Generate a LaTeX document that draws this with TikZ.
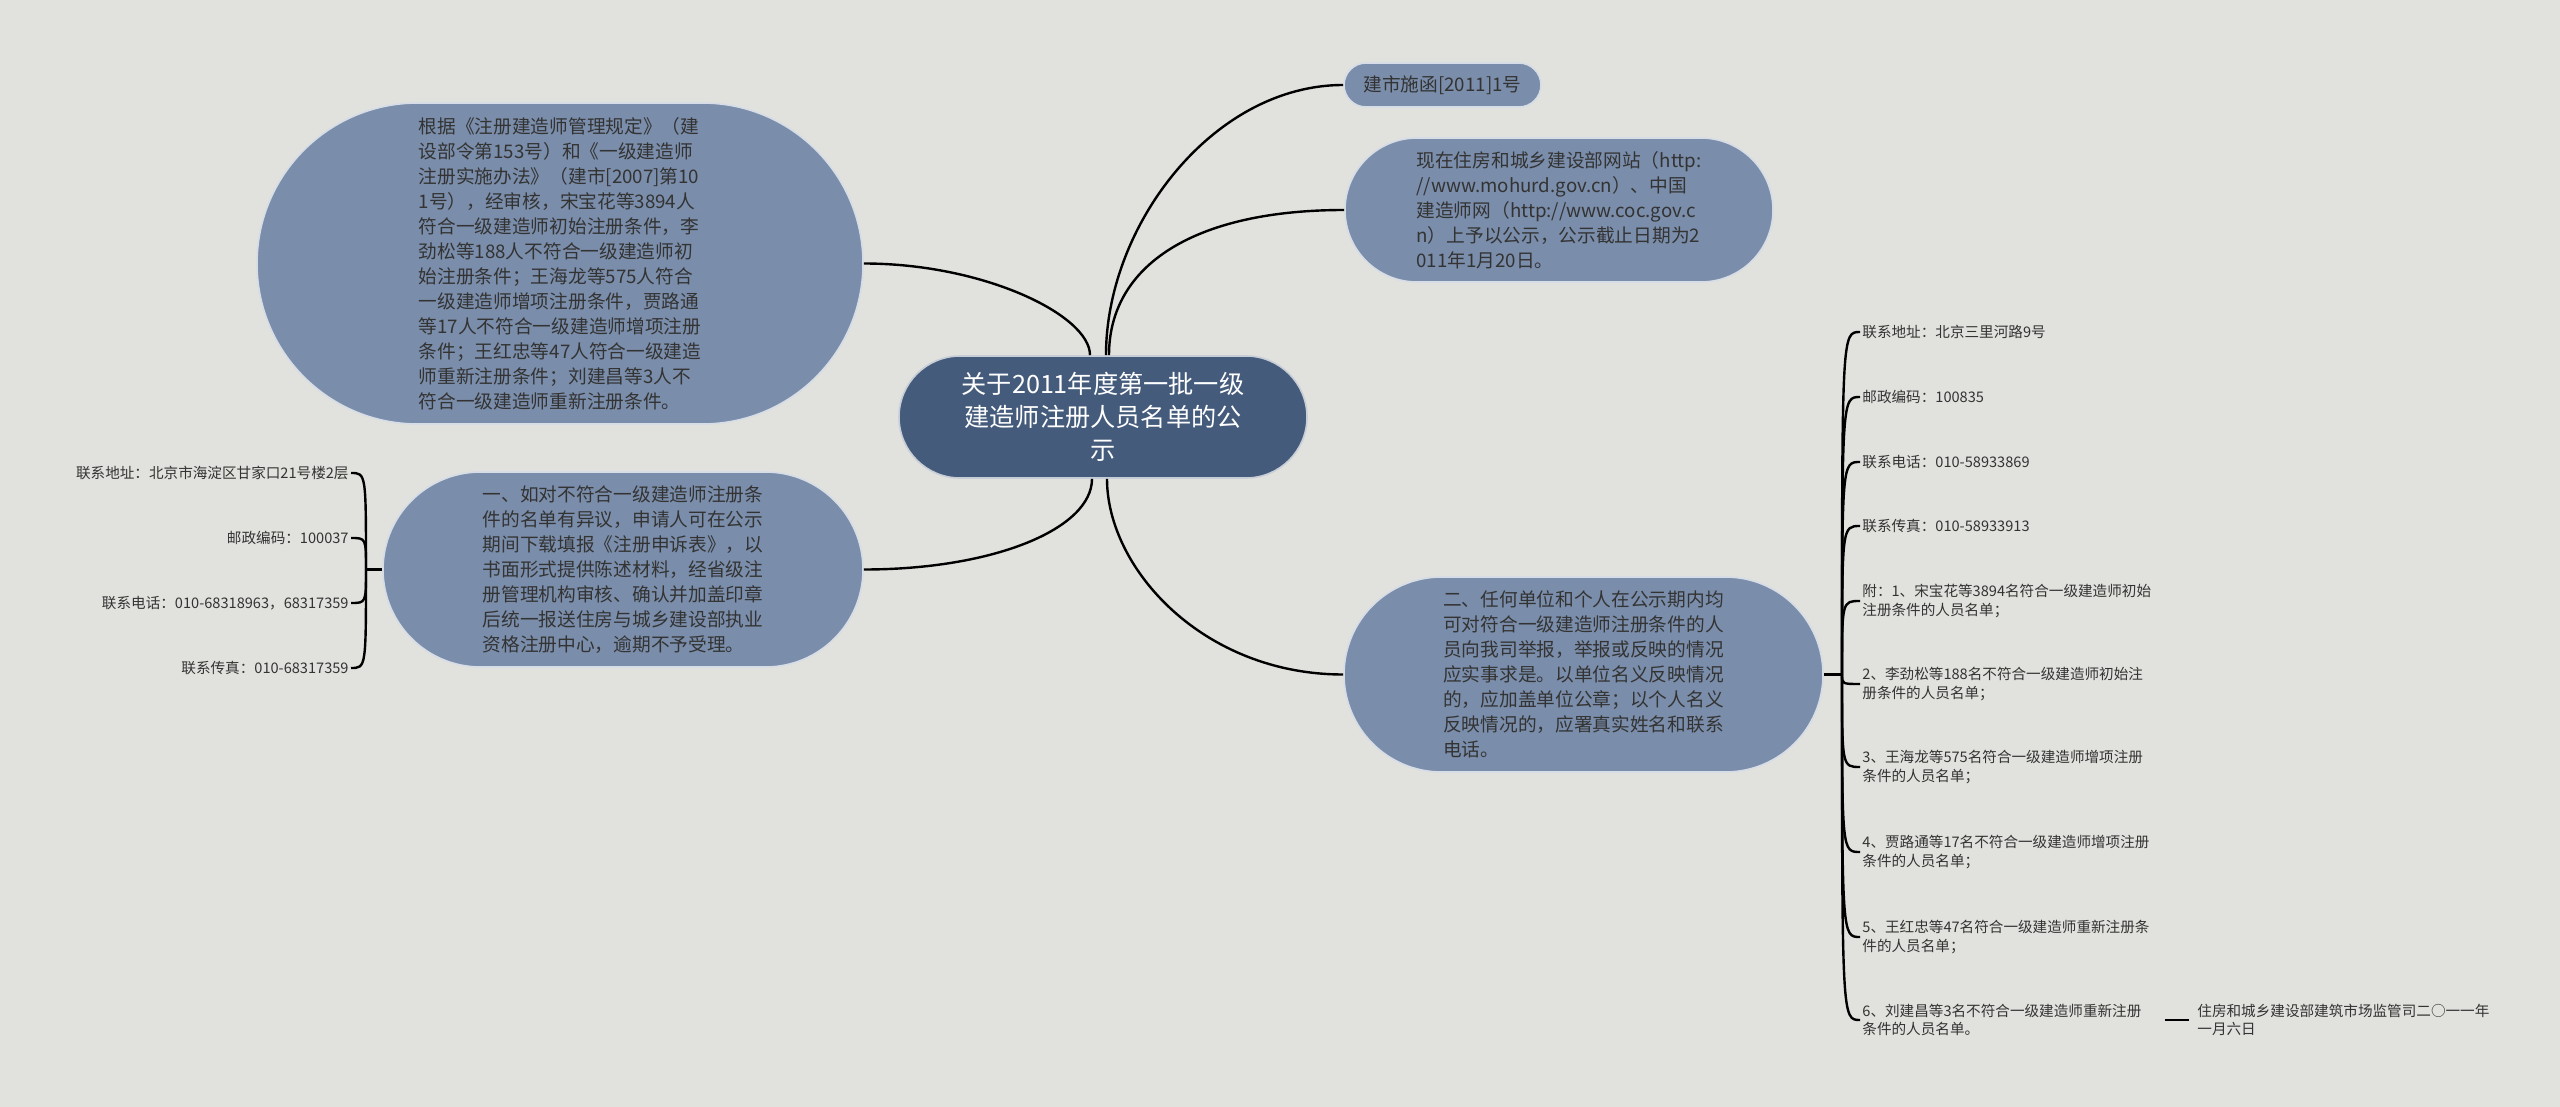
\documentclass[tikz,border=0pt]{standalone}
\usepackage{fontspec}
\setmainfont{Noto Sans CJK SC}
\usepackage{tikz}
\usetikzlibrary{shapes.misc}

\definecolor{paper}{HTML}{E1E1DD}
\definecolor{topicblue}{HTML}{7A8DAA}
\definecolor{rootblue}{HTML}{445B7B}
\definecolor{ink}{HTML}{333333}

\tikzset{
	root/.style={rounded rectangle, fill=rootblue, draw=white!70!rootblue, line width=0.8pt,
		text=white, align=center, inner sep=2pt, font=\fontsize{12.6}{16.5}\selectfont},
	topic/.style={rounded rectangle, fill=topicblue, draw=white!70!topicblue, line width=0.8pt,
		text=ink, align=left, inner sep=2pt, font=\fontsize{9.35}{12.5}\selectfont},
	leaf/.style={text=ink, inner sep=1pt, font=\fontsize{7.3}{9.3}\selectfont},
	link/.style={line width=1.2pt},
}

\begin{document}
\begin{tikzpicture}[x=0.5pt,y=0.5pt]
	\fill[paper] (0,0) rectangle (2560,-1107);
	\useasboundingbox (0,0) rectangle (2560,-1107);
	% centre and main topics
	\node[root, minimum width=208pt, minimum height=61pt] (title) at (1103,-417) {关于2011年度第一批一级\\建造师注册人员名单的公\\示};
	\node[topic, minimum width=307pt, minimum height=160.5pt] (basis) at (560,-263.5) {根据《注册建造师管理规定》（建\\设部令第153号）和《一级建造师\\注册实施办法》（建市[2007]第10\\1号），经审核，宋宝花等3894人\\符合一级建造师初始注册条件，李\\劲松等188人不符合一级建造师初\\始注册条件；王海龙等575人符合\\一级建造师增项注册条件，贾路通\\等17人不符合一级建造师增项注册\\条件；王红忠等47人符合一级建造\\师重新注册条件；刘建昌等3人不\\符合一级建造师重新注册条件。};
	\node[topic, minimum width=244pt, minimum height=97.5pt] (appeal) at (623,-569.5) {一、如对不符合一级建造师注册条\\件的名单有异议，申请人可在公示\\期间下载填报《注册申诉表》，以\\书面形式提供陈述材料，经省级注\\册管理机构审核、确认并加盖印章\\后统一报送住房与城乡建设部执业\\资格注册中心，逾期不予受理。};
	\node[topic, minimum width=102.5pt, minimum height=22pt] (docno) at (1442.5,-85) {建市施函[2011]1号};
	\node[topic, minimum width=218pt, minimum height=72pt] (site) at (1559,-210) {现在住房和城乡建设部网站（http:\\//www.mohurd.gov.cn）、中国\\建造师网（http://www.coc.gov.c\\n）上予以公示，公示截止日期为2\\011年1月20日。};
	\node[topic, minimum width=243.5pt, minimum height=97.5pt] (report) at (1583.5,-674.5) {二、任何单位和个人在公示期内均\\可对符合一级建造师注册条件的人\\员向我司举报，举报或反映的情况\\应实事求是。以单位名义反映情况\\的，应加盖单位公章；以个人名义\\反映情况的，应署真实姓名和联系\\电话。};

	\draw[link] ([xshift=-6.5pt]title.north) .. controls +(0,40) and +(120,0) .. (basis.east);
	\draw[link] ([xshift=1.5pt]title.north) .. controls +(0,130) and +(-130,0) .. (docno.west);
	\draw[link] ([xshift=3pt]title.north) .. controls +(0,90) and +(-150,0) .. (site.west);
	\draw[link] ([xshift=-5.5pt]title.south) .. controls +(0,-50) and +(130,0) .. (appeal.east);
	\draw[link] ([xshift=2pt]title.south) .. controls +(0,-90) and +(-140,0) .. (report.west);

	% contacts of the appeal office
	\node[leaf, anchor=east] (l1) at (351,-473) {联系地址：北京市海淀区甘家口21号楼2层};
	\node[leaf, anchor=east] (l2) at (351,-538) {邮政编码：100037};
	\node[leaf, anchor=east] (l3) at (351,-603) {联系电话：010-68318963，68317359};
	\node[leaf, anchor=east] (l4) at (351,-668) {联系传真：010-68317359};
	\coordinate (lhub) at (366,-569.5);
	\draw[link] (appeal.west) -- (lhub);
	\foreach \n in {l1,l2,l3,l4}
		\draw[link] (lhub) .. controls (lhub |- \n.east) .. (\n.east);

	% contacts and attachments of the report
	\tikzset{rleaf/.style={leaf, anchor=west, align=left, text width=150pt}}
	\node[rleaf] (r1) at (1860,-332) {联系地址：北京三里河路9号};
	\node[rleaf] (r2) at (1860,-397) {邮政编码：100835};
	\node[rleaf] (r3) at (1860,-462) {联系电话：010-58933869};
	\node[rleaf] (r4) at (1860,-526) {联系传真：010-58933913};
	\node[rleaf] (r5) at (1860,-601) {附：1、宋宝花等3894名符合一级建造师初始\\注册条件的人员名单；};
	\node[rleaf] (r6) at (1860,-684) {2、李劲松等188名不符合一级建造师初始注\\册条件的人员名单；};
	\node[rleaf] (r7) at (1860,-767) {3、王海龙等575名符合一级建造师增项注册\\条件的人员名单；};
	\node[rleaf] (r8) at (1860,-852) {4、贾路通等17名不符合一级建造师增项注册\\条件的人员名单；};
	\node[rleaf] (r9) at (1860,-937) {5、王红忠等47名符合一级建造师重新注册条\\件的人员名单；};
	\node[rleaf] (r10) at (1860,-1020) {6、刘建昌等3名不符合一级建造师重新注册\\条件的人员名单。};
	\node[leaf, anchor=west, align=left, inner xsep=4pt] (sign) at (2189,-1020) {住房和城乡建设部建筑市场监管司二○一一年\\一月六日};
	\coordinate (rhub) at (1842,-674.5);
	\draw[link] (report.east) -- (rhub);
	\foreach \n in {r1,r2,r3,r4,r5,r6,r7,r8,r9,r10}
		\draw[link] (rhub) .. controls (rhub |- \n.west) .. (\n.west);
	\draw[link] (r10) -- (sign);
\end{tikzpicture}
\end{document}
